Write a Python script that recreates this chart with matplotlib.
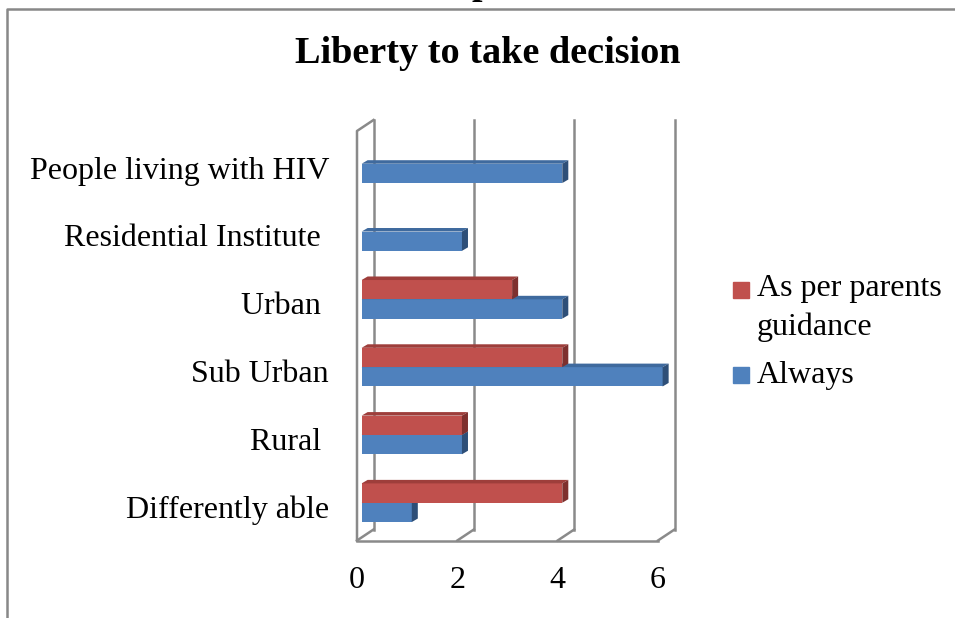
import matplotlib
matplotlib.use("Agg")
import matplotlib.pyplot as plt
from matplotlib.patches import Polygon, Rectangle

plt.rcParams['font.family'] = ['Liberation Serif', 'DejaVu Serif']

categories = ["Differently able", "Rural ", "Sub Urban", "Urban ",
              "Residential Institute ", "People living with HIV"]
always = [1, 2, 6, 4, 2, 4]
parents = [4, 2, 4, 3, 0, 0]
ticks = [0, 2, 4, 6]
series_names = ["As per parents\nguidance", "Always"]

W, H = 955, 618
fig = plt.figure(figsize=(W / 100, H / 100), dpi=100)

def fx(px):
    return px / W

def fy(py):
    return 1 - py / H

# plot area = front floor edge up to top of back wall
ax = fig.add_axes([fx(357), fy(540.5), (658 - 357) / W, (540.5 - 120) / H])
ax.set_xlim(0, 6)
ax.set_ylim(-0.557, 5.645)
ax.axis('off')

# 3d-ish depth offsets (data units)
DX, DY = 0.329, 0.162
y_floor, y_top = -0.557, 5.645
grid_c = '#8a8a8a'
glw = 1.8

# walls and floor
ax.plot([0, 6], [y_floor, y_floor], color=grid_c, lw=glw, clip_on=False)
for t in ticks:
    ax.plot([t, t + DX], [y_floor, y_floor + DY], color=grid_c, lw=glw, clip_on=False)
    ax.plot([t + DX, t + DX], [y_floor + DY, y_top], color=grid_c, lw=glw, clip_on=False)
ax.plot([0, 0, DX], [y_floor, y_top - DY, y_top], color=grid_c, lw=glw, clip_on=False)

# bars
h = 0.285
x0 = 0.28 * DX
ddx, ddy = 0.12, 0.052
blue = ('#4F81BD', '#3F6A9E', '#2E4F78')
red = ('#C0504D', '#9E3E3B', '#7E302E')

def bar3d(ybase, vals, cols):
    ys = [i + ybase for i in range(len(vals))]
    bars = ax.barh(ys, vals, height=h, left=x0, align='edge', color=cols[0], zorder=3)
    for b in bars:
        b.set_clip_on(False)
    for y, v in zip(ys, vals):
        if v <= 0:
            continue
        x1 = x0 + v
        top = Polygon([(x0, y + h), (x1, y + h), (x1 + ddx, y + h + ddy), (x0 + ddx, y + h + ddy)],
                      closed=True, facecolor=cols[1], edgecolor='none', zorder=3, clip_on=False)
        side = Polygon([(x1, y), (x1, y + h), (x1 + ddx, y + h + ddy), (x1 + ddx, y + ddy)],
                       closed=True, facecolor=cols[2], edgecolor='none', zorder=3, clip_on=False)
        ax.add_patch(top)
        ax.add_patch(side)

bar3d(-h, always, blue)
bar3d(0, parents, red)

fs = 23

# category labels
for i, lab in enumerate(categories):
    ax.text(-0.558, i - 0.218, lab, ha='right', va='baseline', fontsize=fs, clip_on=False)

# value axis labels
for t in ticks:
    ax.text(t, -1.258, str(t), ha='center', va='baseline', fontsize=fs, clip_on=False)

# title
fig.text(fx(488), fy(63), "Liberty to take decision", ha='center', va='baseline',
         fontsize=27.5, fontweight='bold')
# bit of the page text above the chart
fig.text(fx(471), fy(-6.5), "p", ha='left', va='baseline', fontsize=27, fontweight='bold')

# frame of the chart area
fig.add_artist(plt.Line2D([fx(7), fx(7), fx(W)], [fy(H), fy(8.5), fy(8.5)],
                          color='#888888', lw=1.8))

# legend
fig.add_artist(Rectangle((fx(733), fy(297.5)), 16 / W, 16 / H, color=red[0]))
fig.text(fx(757), fy(335), series_names[0], ha='left', va='baseline', fontsize=fs,
         linespacing=1.42)
fig.add_artist(Rectangle((fx(733), fy(383)), 16 / W, 16 / H, color=blue[0]))
fig.text(fx(757), fy(383), series_names[1], ha='left', va='baseline', fontsize=fs)

fig.savefig("out.png", dpi=100)
